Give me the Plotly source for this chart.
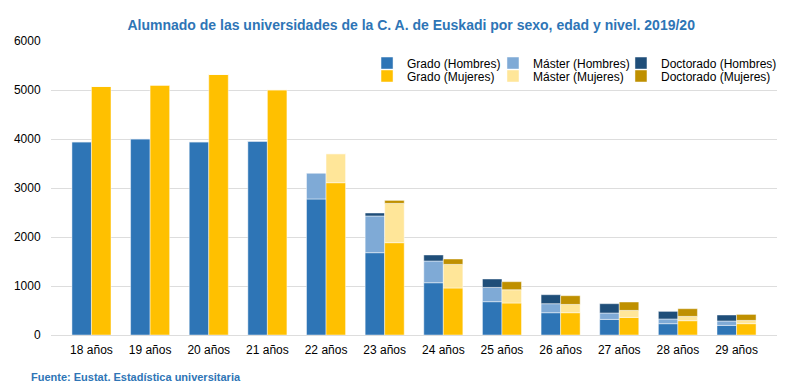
import plotly.graph_objects as go

ages = ["18 años", "19 años", "20 años", "21 años", "22 años", "23 años",
        "24 años", "25 años", "26 años", "27 años", "28 años", "29 años"]

grado_h = [3945, 4006, 3945, 3959, 2776, 1680, 1067, 680, 455, 318, 231, 196]
master_h = [0, 0, 0, 0, 530, 749, 443, 291, 184, 131, 96, 90]
doct_h = [0, 0, 0, 0, 0, 61, 123, 172, 183, 190, 155, 122]

grado_m = [5073, 5102, 5318, 5006, 3108, 1884, 959, 653, 455, 359, 292, 231]
master_m = [0, 0, 0, 0, 592, 802, 482, 271, 169, 143, 88, 67]
doct_m = [0, 0, 0, 0, 0, 61, 110, 164, 178, 171, 157, 122]

y_ticks = [0, 1000, 2000, 3000, 4000, 5000, 6000]

FONT = "Liberation Sans, Arial, sans-serif"
BLUE_TITLE = "#2E75B6"

# name, values, colour, group, legend id, stacked-below series
series = [
    ("Grado (Hombres)", grado_h, "#2E75B6", "H", "legend", None),
    ("Máster (Hombres)", master_h, "#7FAAD6", "H", "legend2", [grado_h]),
    ("Doctorado (Hombres)", doct_h, "#1F4E79", "H", "legend3", [grado_h, master_h]),
    ("Grado (Mujeres)", grado_m, "#FFC000", "M", "legend4", None),
    ("Máster (Mujeres)", master_m, "#FFE699", "M", "legend5", [grado_m]),
    ("Doctorado (Mujeres)", doct_m, "#BF9000", "M", "legend6", [grado_m, master_m]),
]

fig = go.Figure()
for name, vals, color, grp, leg, below in series:
    if below is None:
        base = [0] * len(vals)
    else:
        base = [sum(col) for col in zip(*below)]
    fig.add_trace(go.Bar(
        x=ages, y=vals, base=base, name=name, offsetgroup=grp,
        marker=dict(color=color, line=dict(color="rgba(255,255,255,0.45)", width=1)),
        legend=leg, showlegend=True,
    ))

legend_common = dict(
    orientation="v", font=dict(family=FONT, size=12, color="#000000"),
    bgcolor="rgba(0,0,0,0)", xanchor="left", yanchor="middle",
    itemclick=False, itemdoubleclick=False, visible=True,
)
col_x = [0.4353, 0.6088, 0.7851]
row_y = [0.925, 0.881]

legends = {}
ids = ["legend", "legend2", "legend3", "legend4", "legend5", "legend6"]
for i, lid in enumerate(ids):
    legends[lid] = dict(legend_common, x=col_x[i % 3], y=row_y[i // 3])

fig.update_layout(
    width=800, height=390,
    margin=dict(l=43, r=31, t=33, b=63, autoexpand=False),
    paper_bgcolor="white", plot_bgcolor="white",
    showlegend=True,
    barmode="group", bargap=0.334, bargroupgap=0,
    font=dict(family=FONT, size=12, color="#000000"),
    title=dict(
        text="<b>Alumnado de las universidades de la C. A. de Euskadi por sexo, edad y nivel. 2019/20</b>",
        font=dict(family=FONT, size=14, color=BLUE_TITLE),
        x=0.504, xref="container", xanchor="center",
        y=0.956, yref="container", yanchor="middle",
    ),
    xaxis=dict(
        type="category", range=[-0.69, 11.69],
        showgrid=False, showline=False, zeroline=False,
        ticks="outside", ticklen=4, tickcolor="rgba(0,0,0,0)",
        tickfont=dict(family=FONT, size=12, color="#000000"),
    ),
    yaxis=dict(
        range=[0, 6000], tickvals=y_ticks,
        showgrid=True, gridcolor="#DDDDDD", gridwidth=1,
        zeroline=True, zerolinecolor="#DDDDDD", zerolinewidth=1,
        showline=False, ticks="outside", ticklen=7, tickcolor="rgba(0,0,0,0)",
        tickfont=dict(family=FONT, size=12, color="#000000"),
    ),
    annotations=[dict(
        text="<b>Fuente: Eustat. Estadística universitaria</b>",
        xref="paper", yref="paper", x=-0.0303, y=-0.143,
        xanchor="left", yanchor="middle", showarrow=False,
        font=dict(family=FONT, size=11, color=BLUE_TITLE),
    )],
    **legends,
)

fig.write_html("out.html")
